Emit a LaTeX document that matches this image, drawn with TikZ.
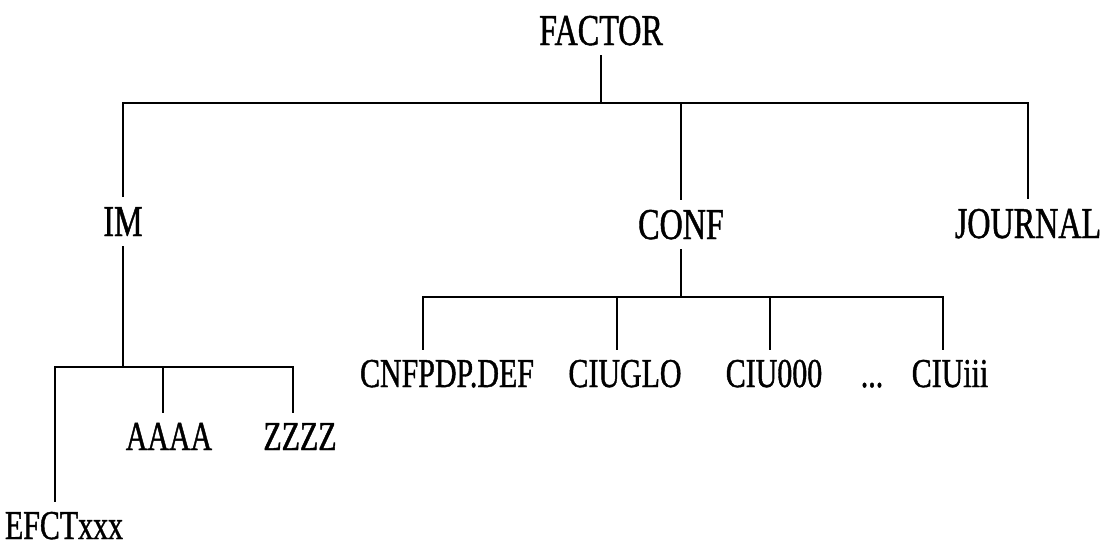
\documentclass[tikz,border=0pt]{standalone}
\usepackage{fontspec}
\usepackage{tikz}
\usetikzlibrary{positioning}
\newfontfamily\treefont[FakeStretch=0.73, FakeBold=1]{Liberation Serif}

\begin{document}
\begin{tikzpicture}[x=1pt, y=-1pt, line width=1.6pt,
    lbl/.style = {font=\treefont\fontsize{44}{44}\selectfont, inner sep=0pt, outer sep=10pt, anchor=base},
    leaf/.style = {font=\treefont\fontsize{41}{41}\selectfont, inner sep=0pt, outer sep=10pt, anchor=base}]
            \useasboundingbox (0,0) rectangle (1105,547);
            % Nodes
            \node[lbl] (factor) at (601,45) {FACTOR};
            \node[lbl] (im) at (123,236) {IM};
            \node[lbl] (conf) at (681,239) {CONF};
            \node[lbl] (journal) at (1028,238) {JOURNAL};
            \node[leaf] (cnf) at (447,387) {CNFPDP.DEF};
            \node[leaf] (ciuglo) at (625,387) {CIUGLO};
            \node[leaf] (ciu0) at (774,387) {CIU000};
            \node[leaf] (dots) at (872,387) {...};
            \node[leaf] (ciui) at (950,387) {CIUiii};
            \node[leaf] (aaaa) at (169,450) {AAAA};
            \node[leaf] (zzzz) at (300,450) {ZZZZ};
            \node[leaf, anchor=base west] (efct) at (-5,539) {EFCTxxx};
            \coordinate (bar) at (0,103);
            \coordinate (cbar) at (0,297);
            \coordinate (ibar) at (0,367);
            % Edges
            \draw (factor.south) -- (factor.south |- bar);
            \draw (im.north) -- (im.north |- bar) -- (journal.north |- bar) -- (journal.north);
            \draw (conf.north) -- (conf.north |- bar);
            \draw (conf.south) -- (conf.south |- cbar);
            \draw ([xshift=-24pt]cnf.north) -- ([xshift=-24pt]cnf.north |- cbar) -- ([xshift=-7pt]ciui.north |- cbar) -- ([xshift=-7pt]ciui.north);
            \draw ([xshift=-8pt]ciuglo.north) -- ([xshift=-8pt]ciuglo.north |- cbar);
            \draw ([xshift=-4pt]ciu0.north) -- ([xshift=-4pt]ciu0.north |- cbar);
            \draw (im.south) -- (im.south |- ibar);
            \draw ([xshift=-9pt]efct.north) -- ([xshift=-9pt]efct.north |- ibar) -- ([xshift=-7pt]zzzz.north |- ibar) -- ([xshift=-7pt]zzzz.north);
            \draw ([xshift=-6pt]aaaa.north) -- ([xshift=-6pt]aaaa.north |- ibar);
\end{tikzpicture}
\end{document}
